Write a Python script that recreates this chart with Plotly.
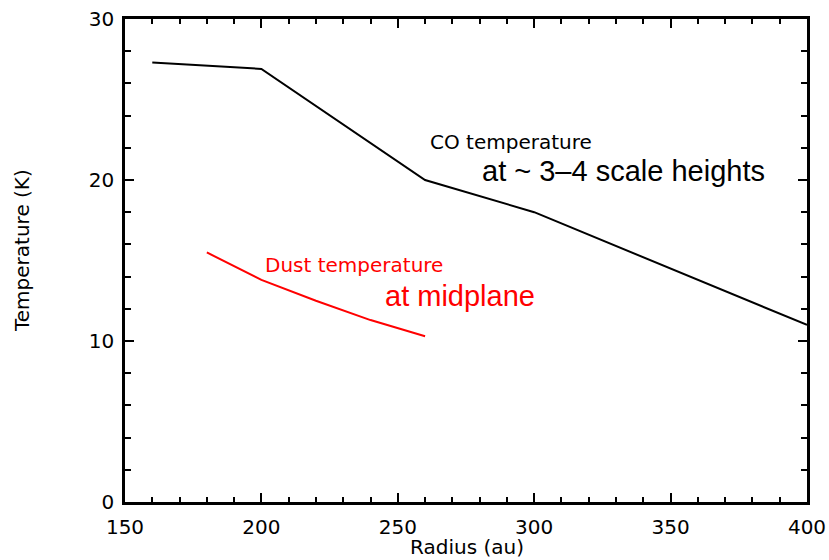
import plotly.graph_objects as go

# Gas (CO) temperature profile
co_radius = [160, 200, 260, 300, 400]
co_temp = [27.3, 26.9, 20.0, 18.0, 11.0]

# Dust temperature profile
dust_radius = [180, 200, 220, 240, 260]
dust_temp = [15.5, 13.8, 12.5, 11.3, 10.3]

x_ticks = [150, 200, 250, 300, 350, 400]
y_ticks = [0, 10, 20, 30]

label_font = "DejaVu Sans"
big_font = "Liberation Sans"

W, H = 829, 560
L, R, T, B = 125, 22, 19, 58
pw, ph = W - L - R, H - T - B

fig = go.Figure()
fig.add_trace(go.Scatter(x=co_radius, y=co_temp, mode="lines",
                         line=dict(color="black", width=2), showlegend=False))
fig.add_trace(go.Scatter(x=dust_radius, y=dust_temp, mode="lines",
                         line=dict(color="red", width=2), showlegend=False))


def px_to_paper(px, py):
    return (px - L) / pw, 1 - (py - T) / ph


# Text labels, placed in figure pixel coordinates
labels = [
    dict(x=428, y=142, text="CO temperature", color="black", size=20, family=label_font, anchor="left", angle=0),
    dict(x=480, y=171, text="at ~ 3–4 scale heights", color="black", size=29, family=big_font, anchor="left", angle=0),
    dict(x=263, y=265, text="Dust temperature", color="red", size=20, family=label_font, anchor="left", angle=0),
    dict(x=383, y=296, text="at midplane", color="red", size=29, family=big_font, anchor="left", angle=0),
    dict(x=467, y=547, text="Radius (au)", color="black", size=20, family=label_font, anchor="center", angle=0),
    dict(x=22, y=251, text="Temperature (K)", color="black", size=20, family=label_font, anchor="center", angle=-90),
]
for a in labels:
    ax, ay = px_to_paper(a["x"], a["y"])
    fig.add_annotation(x=ax, y=ay, xref="paper", yref="paper", text=a["text"],
                       showarrow=False, xanchor=a["anchor"], yanchor="middle",
                       textangle=a["angle"],
                       font=dict(family=a["family"], size=a["size"], color=a["color"]))

axis_common = dict(
    showgrid=False, zeroline=False, showline=True, linecolor="black", linewidth=2.5,
    mirror="allticks", ticks="inside", ticklen=9, tickwidth=2, tickcolor="black",
    tickfont=dict(family=label_font, size=20, color="black"),
)

fig.update_xaxes(range=[150, 400], tickvals=x_ticks, ticktext=[str(v) for v in x_ticks],
                 minor=dict(dtick=10, tick0=150, ticks="inside", ticklen=5, tickwidth=2,
                            tickcolor="black"),
                 ticklabelstandoff=5,
                 **axis_common)
fig.update_yaxes(range=[0, 30], tickvals=y_ticks, ticktext=[str(v) for v in y_ticks],
                 minor=dict(dtick=2, tick0=0, ticks="inside", ticklen=6, tickwidth=2,
                            tickcolor="black"),
                 ticklabelstandoff=4,
                 **axis_common)

fig.update_layout(width=W, height=H, margin=dict(l=L, r=R, t=T, b=B, autoexpand=False),
                  plot_bgcolor="white", paper_bgcolor="white")

fig.write_html("out.html")
